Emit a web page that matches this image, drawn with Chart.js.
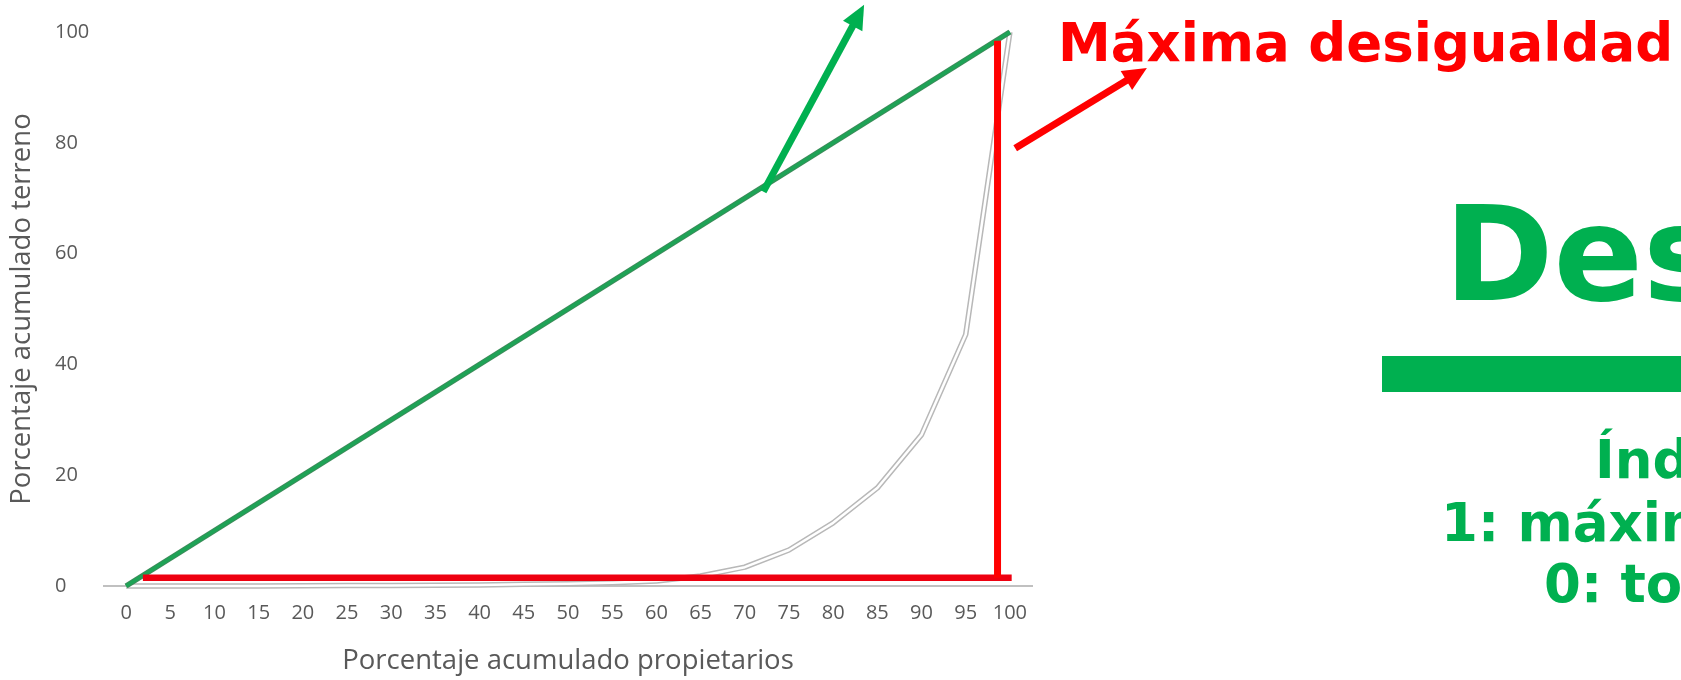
<!DOCTYPE html>
<html>
<head>
<meta charset="utf-8">
<script src="https://cdn.jsdelivr.net/npm/chart.js@4.4.1/dist/chart.umd.min.js"></script>
<style>
  html, body { margin: 0; padding: 0; background: #fff; }
  #wrap { width: 1681px; height: 680px; position: relative; }
</style>
</head>
<body>
<div id="wrap"><canvas id="lorenz"></canvas></div>
<script>
// Porcentajes acumulados (eje X) y ticks
const xTicks = [0, 5, 10, 15, 20, 25, 30, 35, 40, 45, 50, 55, 60, 65, 70, 75, 80, 85, 90, 95, 100];
const yTicks = [0, 20, 40, 60, 80, 100];

// Curva de Lorenz (terreno acumulado)
const curvaLorenz = [0, 0, 0, 0, 0.05, 0.1, 0.1, 0.15, 0.2, 0.3, 0.4, 0.6, 0.9, 1.8, 3.4, 6.5, 11.4, 17.7, 27.3, 45.4, 100];

// Línea de igualdad perfecta
const igualdadX = [0, 100];
const igualdadY = [0, 100];

// Máxima desigualdad (la "L" roja)
const maxDesHorizX = [1.9, 100.2];
const maxDesHorizY = [1.5, 1.5];
const maxDesVertX = [98.6, 98.6];
const maxDesVertY = [1.5, 98.4];

// Flechas (cola -> punta) en coordenadas de datos
const flechaVerde = [[72.1, 71.2], [83.5, 104.9]];
const flechaRoja = [[100.6, 79.0], [115.5, 93.5]];

const VERDE = '#00b050';
const ROJO = '#ff0000';
const GRIS = '#595959';

function puntos(xs, ys) {
    return xs.map((x, i) => ({x: x, y: ys[i]}));
}

// Textos de la diapositiva
const notas = [
    {text: 'Máxima desigualdad', x: 1058, y: 61, size: 53, color: ROJO},
    {text: 'Desigualdad', x: 1444, y: 300, size: 132, color: VERDE},
    {text: 'Índice de Gini', x: 1595, y: 478, size: 53, color: VERDE},
    {text: '1: máxima desigualdad', x: 1441, y: 541, size: 53, color: VERDE},
    {text: '0: total igualdad', x: 1544, y: 602, size: 53, color: VERDE}
];

// Plugin para las flechas y los textos de la derecha
const anotaciones = {
    id: 'anotaciones',
    afterDatasetsDraw(chart) {
        const ctx = chart.ctx;
        const sx = chart.scales.x, sy = chart.scales.y;
        function flecha(par, color, ancho) {
            const x1 = sx.getPixelForValue(par[0][0]), y1 = sy.getPixelForValue(par[0][1]);
            const x2 = sx.getPixelForValue(par[1][0]), y2 = sy.getPixelForValue(par[1][1]);
            const ang = Math.atan2(y2 - y1, x2 - x1);
            const largo = 24, medio = 11;
            const bx = x2 - largo * Math.cos(ang), by = y2 - largo * Math.sin(ang);
            ctx.save();
            ctx.strokeStyle = color;
            ctx.fillStyle = color;
            ctx.lineWidth = ancho;
            ctx.beginPath();
            ctx.moveTo(x1, y1);
            ctx.lineTo(bx + 2 * Math.cos(ang), by + 2 * Math.sin(ang));
            ctx.stroke();
            ctx.beginPath();
            ctx.moveTo(x2, y2);
            ctx.lineTo(bx + medio * Math.sin(ang), by - medio * Math.cos(ang));
            ctx.lineTo(bx - medio * Math.sin(ang), by + medio * Math.cos(ang));
            ctx.closePath();
            ctx.fill();
            ctx.restore();
        }
        flecha(flechaVerde, VERDE, 7);
        flecha(flechaRoja, ROJO, 7);

        ctx.save();
        ctx.textAlign = 'left';
        ctx.textBaseline = 'alphabetic';
        notas.forEach(n => {
            ctx.font = 'bold ' + n.size + 'px "DejaVu Sans"';
            ctx.fillStyle = n.color;
            ctx.fillText(n.text, n.x, n.y);
        });
        // barra verde bajo el título
        ctx.fillStyle = VERDE;
        ctx.fillRect(1382, 356, 299, 36);
        ctx.restore();
    }
};

const ctx = document.getElementById('lorenz').getContext('2d');
const myChart = new Chart(ctx, {
    type: 'line',
    data: {
        datasets: [
            { data: puntos(maxDesVertX, maxDesVertY), borderColor: ROJO, borderWidth: 7 },
            { data: puntos(maxDesHorizX, maxDesHorizY), borderColor: '#ee0010', borderWidth: 6.5 },
            { data: puntos(igualdadX, igualdadY), borderColor: '#1ea356', borderWidth: 3.5 },
            { data: puntos(igualdadX, igualdadY), borderColor: '#3d8a5a', borderWidth: 5.5 },
            { data: puntos(xTicks, curvaLorenz), borderColor: '#ffffff', borderWidth: 2.5 },
            { data: puntos(xTicks, curvaLorenz), borderColor: '#b8b8b8', borderWidth: 5.5 }
        ]
    },
    options: {
        responsive: true,
        maintainAspectRatio: false,
        animation: false,
        devicePixelRatio: 1,
        layout: { padding: { top: 32, right: 649, left: 0, bottom: 0 } },
        elements: {
            point: { radius: 0, hoverRadius: 0 },
            line: { tension: 0, borderJoinStyle: 'round', borderCapStyle: 'butt' }
        },
        datasets: { line: { clip: false } },
        plugins: {
            legend: { display: false },
            tooltip: { enabled: false }
        },
        scales: {
            x: {
                type: 'linear',
                min: -2.5,
                max: 102.5,
                afterBuildTicks: s => { s.ticks = xTicks.map(v => ({value: v})); },
                afterFit: s => { s.height = 94; },
                grid: { display: false, drawTicks: false },
                border: { display: true, color: '#c0c0c0', width: 2 },
                ticks: {
                    color: GRIS,
                    padding: 15,
                    maxRotation: 0,
                    autoSkip: false,
                    font: { family: 'Open Sans', size: 20 }
                },
                title: {
                    display: true,
                    text: 'Porcentaje acumulado propietarios',
                    color: GRIS,
                    padding: { top: 0, bottom: 2 },
                    font: { family: 'Open Sans', size: 27.5 }
                }
            },
            y: {
                type: 'linear',
                position: 'left',
                weight: 1,
                min: 0,
                max: 100,
                afterBuildTicks: s => { s.ticks = yTicks.map(v => ({value: v})); },
                afterFit: s => { s.width = 49; },
                grid: { display: false, drawTicks: false },
                border: { display: false },
                ticks: {
                    color: GRIS,
                    crossAlign: 'far',
                    font: { family: 'Open Sans', size: 20 }
                }
            },
            // eje auxiliar solo para el título vertical
            yTitulo: {
                type: 'linear',
                position: 'left',
                weight: 2,
                min: 0,
                max: 1,
                afterFit: s => { s.width = 55; },
                grid: { display: false, drawTicks: false },
                border: { display: false },
                ticks: { display: false },
                title: {
                    display: true,
                    text: 'Porcentaje acumulado terreno',
                    color: GRIS,
                    padding: { top: 6, bottom: 0 },
                    font: { family: 'Open Sans', size: 27.5 }
                }
            }
        }
    },
    plugins: [anotaciones]
});
</script>
</body>
</html>
